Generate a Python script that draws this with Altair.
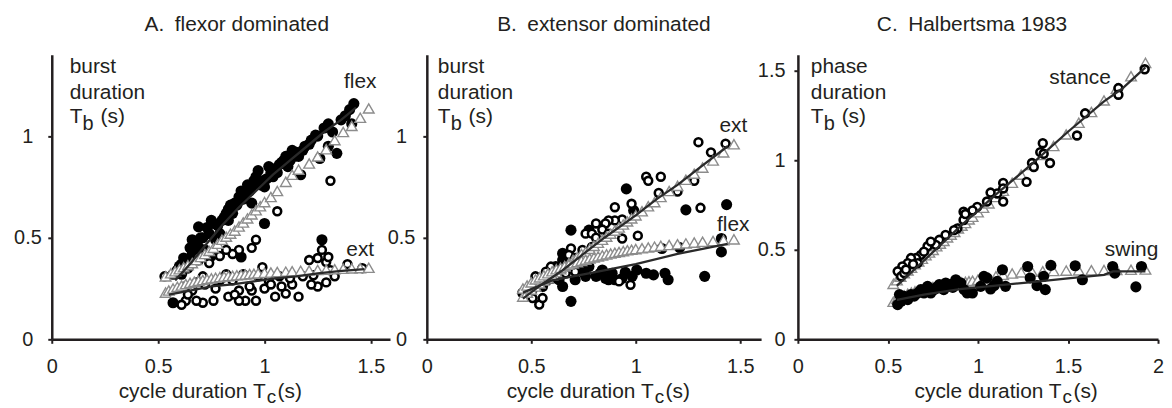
import altair as alt
import pandas as pd

FONT = "Liberation Sans"
INK = "#231f20"
TRI = "#8c8c8c"
LINE = "#2a2a2a"

# ---------------- Panel A: flexor dominated ----------------
A_FLEX = [(1.42,1.16),(1.40,1.13),(1.41,1.06),(1.30,1.06),(1.32,1.02),(1.30,0.95),(1.34,0.915),
          (1.24,1.005),(1.22,0.98),(1.26,0.89),(1.17,0.81),(1.13,0.93),(1.10,0.90),(1.16,0.90),
          (1.07,0.86),(1.03,0.82),(1.02,0.85),(0.99,0.78),(0.97,0.83),(0.96,0.80),(1.00,0.75),
          (0.94,0.75),(0.91,0.72),(0.88,0.70),(0.86,0.67),(0.83,0.64),(0.89,0.73),(0.85,0.62),
          (0.94,0.67),(1.00,0.57),(0.83,0.585),(0.80,0.585),(0.75,0.585),(0.69,0.553),(0.71,0.50),
          (0.77,0.49),(0.69,0.455),(0.66,0.42),(0.72,0.44),(0.63,0.39),(0.60,0.36),(0.61,0.32),
          (0.57,0.32),(0.69,0.39),(0.75,0.41),(0.63,0.26),(0.57,0.18),(1.27,0.49),(0.89,0.405),
          (0.66,0.49),(0.79,0.52),(1.05,0.84),(1.08,0.87),(1.12,0.88),(1.15,0.92),(1.19,0.95),
          (1.11,0.85),(0.93,0.73),(0.90,0.69),(0.87,0.66),(0.81,0.60),(0.78,0.56),(0.74,0.52),
          (0.68,0.47),(0.65,0.45),(0.62,0.40),(0.59,0.34),(0.64,0.35),(1.28,1.04),(1.36,1.08),
          (0.98,0.76),(0.95,0.78),(1.04,0.80),(0.70,0.50),(0.73,0.55),(0.76,0.57),(0.82,0.62),
          (0.84,0.66),(0.92,0.76),(1.01,0.79),(1.06,0.82),(1.09,0.88),(1.14,0.90),(1.18,0.93),
          (1.21,0.96),(1.25,1.00),(1.38,1.10),(0.67,0.44),(0.61,0.37)]
A_EXT = [(1.46,0.35),(1.39,0.37),(1.31,0.34),(1.29,0.38),(1.27,0.44),(1.25,0.40),(1.30,0.405),
         (1.21,0.39),(1.23,0.315),(1.25,0.26),(1.29,0.28),(1.33,0.31),(1.22,0.27),(1.31,0.78),
         (1.06,0.63),(1.16,0.21),(1.13,0.27),(1.10,0.225),(1.07,0.31),(1.02,0.29),(0.99,0.355),
         (0.97,0.31),(0.94,0.24),(0.91,0.19),(0.96,0.19),(0.88,0.24),(0.85,0.29),(0.82,0.32),
         (0.88,0.19),(0.83,0.21),(1.05,0.21),(1.08,0.26),(0.96,0.49),(0.94,0.45),(0.88,0.44),
         (0.85,0.42),(0.82,0.44),(0.79,0.41),(0.74,0.375),(0.72,0.27),(0.76,0.19),(0.71,0.18),
         (0.68,0.19),(0.63,0.19),(0.61,0.17),(0.71,0.31),(0.79,0.29),(0.66,0.24),(0.53,0.31),
         (0.72,0.42),(0.90,0.32),(1.00,0.25),(1.03,0.27),(1.12,0.30),(0.93,0.26),(0.77,0.25),
         (0.68,0.28),(0.64,0.22),(0.86,0.22),(1.18,0.31)]
A_TRI_FLEX = [(0.535,0.31),(0.56,0.325),(0.58,0.335),(0.60,0.345),(0.62,0.355),(0.64,0.365),
              (0.66,0.375),(0.68,0.39),(0.70,0.405),(0.72,0.42),(0.74,0.435),(0.76,0.45),
              (0.78,0.47),(0.80,0.49),(0.82,0.505),(0.84,0.52),(0.86,0.535),(0.88,0.555),
              (0.90,0.575),(0.92,0.595),(0.94,0.615),(0.96,0.635),(0.98,0.655),(1.00,0.675),
              (1.03,0.70),(1.06,0.73),(1.10,0.775),(1.13,0.81),(1.16,0.835),(1.21,0.865),
              (1.25,0.90),(1.29,0.935),(1.33,0.98),(1.37,1.02),(1.41,1.05),(1.45,1.09),(1.49,1.136)]
A_TRI_EXT = [(0.535,0.23),(0.55,0.24),(0.57,0.25),(0.59,0.258),(0.61,0.265),(0.63,0.272),
             (0.65,0.278),(0.67,0.283),(0.69,0.288),(0.71,0.292),(0.73,0.296),(0.75,0.30),
             (0.77,0.303),(0.79,0.306),(0.81,0.309),(0.83,0.311),(0.85,0.313),(0.87,0.315),
             (0.89,0.317),(0.91,0.319),(0.93,0.321),(0.95,0.323),(0.97,0.325),(1.00,0.327),
             (1.03,0.329),(1.06,0.331),(1.10,0.333),(1.13,0.335),(1.17,0.337),(1.21,0.339),
             (1.25,0.341),(1.29,0.343),(1.33,0.345),(1.37,0.347),(1.41,0.349),(1.45,0.35),(1.49,0.352)]
A_LINE_FLEX = [(0.58,0.29),(0.65,0.37),(0.72,0.46),(0.80,0.56),(0.88,0.65),(0.96,0.73),(1.04,0.81),
               (1.12,0.88),(1.20,0.95),(1.28,1.02),(1.36,1.08),(1.43,1.14)]
A_LINE_EXT = [(0.55,0.22),(0.65,0.24),(0.75,0.26),(0.85,0.27),(0.95,0.285),(1.05,0.30),(1.15,0.31),
              (1.25,0.325),(1.35,0.335),(1.47,0.345)]

# ---------------- Panel B: extensor dominated ----------------
B_EXT = [(1.43,0.963),(1.30,0.97),(1.36,0.92),(1.28,0.78),(1.20,0.727),(1.31,0.647),(1.05,0.80),
         (1.06,0.78),(1.12,0.80),(1.11,0.72),(0.98,0.667),(1.01,0.51),(0.935,0.496),(0.90,0.65),
         (0.935,0.59),(0.90,0.585),(0.87,0.585),(0.855,0.57),(0.84,0.54),(0.87,0.52),(0.81,0.57),
         (0.76,0.52),(0.79,0.52),(0.81,0.50),(0.745,0.44),(0.79,0.455),(0.69,0.447),(0.68,0.415),
         (0.71,0.40),(0.76,0.40),(0.745,0.374),(0.70,0.374),(0.65,0.358),(0.665,0.325),(0.594,0.358),
         (0.57,0.333),(0.52,0.31),(0.55,0.276),(0.506,0.244),(0.506,0.203),(0.538,0.171),(0.554,0.203),
         (0.92,0.285),(0.975,0.268),(0.71,0.333),(0.617,0.31)]
B_FLEX = [(1.435,0.663),(1.41,0.496),(1.41,0.43),(1.33,0.31),(1.24,0.637),(1.21,0.452),(1.125,0.447),
          (1.14,0.325),(1.155,0.293),(1.085,0.317),(1.05,0.325),(1.005,0.341),(0.99,0.634),(0.955,0.74),
          (0.69,0.537),(0.776,0.537),(0.65,0.423),(0.65,0.39),(0.617,0.358),(0.633,0.293),(0.65,0.26),
          (0.578,0.293),(0.554,0.26),(0.69,0.187),(0.459,0.228),(0.71,0.293),(0.76,0.31),(0.81,0.31),
          (0.855,0.30),(0.887,0.325),(0.935,0.30),(0.983,0.31),(0.776,0.358),(0.728,0.358),(0.83,0.325),
          (0.90,0.293),(0.87,0.293),(0.84,0.341),(0.60,0.30),(0.52,0.27),(0.75,0.33),(0.95,0.33)]
B_TRI_EXT = [(0.46,0.21),(0.48,0.23),(0.50,0.245),(0.52,0.26),(0.54,0.275),(0.56,0.29),(0.58,0.30),
             (0.60,0.315),(0.62,0.33),(0.64,0.345),(0.66,0.36),(0.68,0.375),(0.70,0.39),(0.72,0.405),
             (0.74,0.42),(0.76,0.43),(0.78,0.445),(0.80,0.46),(0.82,0.475),(0.84,0.49),(0.86,0.505),
             (0.88,0.52),(0.90,0.535),(0.92,0.55),(0.94,0.565),(0.96,0.58),(0.98,0.595),(1.00,0.61),
             (1.03,0.63),(1.06,0.655),(1.09,0.675),(1.12,0.70),(1.16,0.73),(1.20,0.755),(1.24,0.785),
             (1.28,0.815),(1.32,0.845),(1.37,0.88),(1.42,0.92),(1.47,0.96)]
B_TRI_FLEX = [(0.46,0.25),(0.48,0.265),(0.50,0.28),(0.52,0.295),(0.54,0.305),(0.56,0.315),(0.58,0.325),
              (0.60,0.335),(0.62,0.345),(0.64,0.352),(0.66,0.36),(0.68,0.367),(0.70,0.374),(0.72,0.38),
              (0.74,0.386),(0.76,0.392),(0.78,0.398),(0.80,0.403),(0.82,0.408),(0.84,0.413),(0.86,0.418),
              (0.88,0.422),(0.90,0.426),(0.92,0.43),(0.94,0.434),(0.96,0.438),(0.98,0.441),(1.00,0.444),
              (1.03,0.448),(1.06,0.452),(1.09,0.456),(1.12,0.46),(1.16,0.464),(1.20,0.468),(1.24,0.472),
              (1.28,0.476),(1.32,0.48),(1.37,0.484),(1.42,0.488),(1.47,0.492)]
B_LINE_EXT = [(0.46,0.20),(0.55,0.27),(0.65,0.34),(0.75,0.42),(0.85,0.50),(1.00,0.61),(1.10,0.69),
              (1.20,0.76),(1.30,0.84),(1.44,0.95)]
B_LINE_FLEX = [(0.46,0.23),(0.60,0.29),(0.80,0.33),(1.00,0.37),(1.20,0.42),(1.44,0.47)]

# ---------------- Panel C: Halbertsma 1983 ----------------
C_STANCE = [(1.926,1.509),(1.78,1.404),(1.78,1.367),(1.595,1.263),(1.55,1.139),(1.36,1.096),(1.346,1.046),
            (1.365,1.037),(1.40,0.985),(1.30,0.985),(1.31,0.963),(1.27,0.88),(1.14,0.874),(1.14,0.843),
            (1.14,0.77),(1.107,0.815),(1.07,0.82),(1.05,0.77),(0.996,0.74),(0.97,0.72),(0.92,0.713),
            (0.92,0.667),(0.886,0.62),(0.867,0.61),(0.82,0.583),(0.785,0.556),(0.766,0.528),(0.72,0.52),
            (0.683,0.472),(0.656,0.454),(0.628,0.454),(0.61,0.426),(0.58,0.407),(0.554,0.38),(0.573,0.352),
            (0.59,0.37),(0.665,0.426),(0.738,0.546),(0.93,0.70),(0.60,0.39),(0.64,0.42),(0.70,0.49)]
C_SWING = [(1.908,0.407),(1.748,0.407),(1.76,0.37),(1.877,0.293),(1.54,0.411),(1.58,0.333),(1.405,0.413),
           (1.276,0.407),(1.365,0.352),(1.374,0.278),(1.328,0.30),(1.29,0.343),(1.136,0.389),(1.153,0.296),
           (1.07,0.281),(1.033,0.352),(1.05,0.343),(1.107,0.324),(0.969,0.259),(0.923,0.278),(0.877,0.333),
           (0.849,0.306),(0.821,0.315),(0.785,0.306),(0.757,0.278),(0.738,0.259),(0.70,0.259),(0.683,0.278),
           (0.646,0.241),(0.628,0.25),(0.59,0.241),(0.573,0.213),(0.554,0.194),(0.564,0.25),(0.61,0.222),
           (0.665,0.259),(0.72,0.296),(0.81,0.278),(0.905,0.315),(0.94,0.259),(1.015,0.296),(0.60,0.23),
           (0.77,0.29),(0.86,0.29),(1.09,0.30)]
C_TRI_STANCE = [(0.53,0.31),(0.55,0.33),(0.57,0.35),(0.59,0.37),(0.61,0.385),(0.63,0.40),(0.65,0.42),
                (0.67,0.435),(0.69,0.45),(0.71,0.47),(0.73,0.485),(0.75,0.50),(0.77,0.52),(0.79,0.535),
                (0.81,0.55),(0.83,0.57),(0.85,0.585),(0.87,0.60),(0.89,0.62),(0.91,0.635),(0.93,0.65),
                (0.95,0.67),(0.97,0.685),(1.00,0.71),(1.03,0.735),(1.06,0.76),(1.10,0.795),(1.14,0.83),
                (1.19,0.875),(1.24,0.92),(1.30,0.975),(1.36,1.03),(1.42,1.08),(1.49,1.145),(1.56,1.21),
                (1.63,1.27),(1.70,1.335),(1.77,1.40),(1.85,1.47),(1.93,1.545)]
C_TRI_SWING = [(0.53,0.21),(0.55,0.225),(0.57,0.235),(0.59,0.245),(0.61,0.255),(0.63,0.262),(0.65,0.268),
               (0.67,0.274),(0.69,0.279),(0.71,0.284),(0.73,0.288),(0.75,0.292),(0.77,0.296),(0.79,0.30),
               (0.81,0.303),(0.83,0.306),(0.85,0.309),(0.87,0.312),(0.89,0.315),(0.91,0.318),(0.93,0.321),
               (0.95,0.324),(0.97,0.327),(1.00,0.333),(1.03,0.338),(1.06,0.344),(1.10,0.352),(1.14,0.36),
               (1.19,0.368),(1.24,0.374),(1.30,0.378),(1.36,0.38),(1.42,0.382),(1.49,0.384),(1.56,0.385),
               (1.63,0.386),(1.70,0.387),(1.77,0.388),(1.85,0.389),(1.93,0.39)]
C_LINE_STANCE = [(0.55,0.30),(0.70,0.44),(0.90,0.63),(1.10,0.81),(1.30,0.98),(1.50,1.16),(1.70,1.33),
                 (1.80,1.40),(1.93,1.52)]
C_LINE_SWING = [(0.55,0.22),(0.70,0.25),(0.90,0.28),(1.10,0.30),(1.30,0.32),(1.50,0.34),(1.70,0.36),
                (1.75,0.38),(1.93,0.38)]

TITLES = ["A.\u2002flexor dominated", "B.\u2002extensor dominated", "C.\u2002Halbertsma 1983"]
YWORD = ["burst", "burst", "phase"]


def df(pairs):
    return pd.DataFrame(pairs, columns=["x", "y"])


def txt(s, px, py, size=20, align="left"):
    return alt.Chart(pd.DataFrame({"t": [s]})).mark_text(
        text=s, align=align, baseline="alphabetic", font=FONT, fontSize=size, color=INK
    ).encode(x=alt.value(px), y=alt.value(py))


def panel(filled, opened, tri1, tri2, line1, line2, xdom, ydom, xticks, yticks, width,
          ylab_align, ylab_pad, title, title_x, yword, ylab_x, xt_right, notes, tri_below=False):
    xs = alt.Scale(domain=xdom, nice=False, zero=False)
    ys = alt.Scale(domain=ydom, nice=False, zero=False)
    common = dict(grid=False, title=None, domainColor=INK, domainWidth=2.5, tickColor=INK,
                  tickWidth=2, tickSize=4, labelFont=FONT, labelFontSize=20, labelColor=INK,
                  format=".1~f", labelOverlap=False, labelFlush=False, labelBound=False)
    xa = alt.Axis(values=xticks, labelPadding=13, **common)
    ya = alt.Axis(values=yticks, labelPadding=ylab_pad, labelAlign=ylab_align,
                  labelBaseline="middle", **common)
    X = alt.X("x:Q", scale=xs, axis=xa)
    Y = alt.Y("y:Q", scale=ys, axis=ya)

    fil = alt.Chart(df(filled)).mark_point(shape="circle", filled=True, color="#000000",
                                           size=125, opacity=1).encode(x=X, y=Y)
    ope = alt.Chart(df(opened)).mark_point(shape="circle", fill="#ffffff", stroke="#000000",
                                           strokeWidth=2.6, size=62, opacity=1, fillOpacity=1).encode(x=X, y=Y)
    tris = [alt.Chart(df(t)).mark_point(shape="triangle-up", fill="#ffffff", fillOpacity=1,
                                        stroke=TRI, strokeWidth=1.4, size=115, opacity=1).encode(x=X, y=Y)
            for t in (tri1, tri2)]
    lines = [alt.Chart(df(l)).mark_line(color=LINE, strokeWidth=2.3).encode(x=X, y=Y)
             for l in (line1, line2)]
    layers = []
    if tri_below:
        layers += tris + [fil, ope]
    else:
        layers += [fil, ope] + tris
    layers += lines
    # curve annotations (data coordinates)
    for s, nx, ny in notes:
        layers.append(alt.Chart(pd.DataFrame({"x": [nx], "y": [ny]})).mark_text(
            text=s, font=FONT, fontSize=21, color=INK, align="center", baseline="alphabetic"
        ).encode(x=X, y=Y))
    # panel title
    layers.append(txt(title, title_x, -24, align="center", size=21))
    # y label block
    layers.append(txt(yword, ylab_x, 18, size=21))
    layers.append(txt("duration", ylab_x, 44, size=21))
    layers.append(txt("T", ylab_x, 69, size=21))
    layers.append(txt("b", ylab_x + 13, 76, size=20))
    layers.append(txt("(s)", ylab_x + 31, 69, size=21))
    # x title
    layers.append(txt("cycle duration T", xt_right, 345, align="right", size=21))
    layers.append(txt("c", xt_right + 1, 350, size=19))
    layers.append(txt("(s)", xt_right + 12, 345, size=21))
    return alt.layer(*layers).properties(width=width, height=286)


pA = panel(A_FLEX, A_EXT, A_TRI_FLEX, A_TRI_EXT, A_LINE_FLEX, A_LINE_EXT,
           [0, 1.59], [0, 1.4], [0, 0.5, 1, 1.5], [0, 0.5, 1], 340, "center", 20.5,
           TITLES[0], 186, YWORD[0], 18, 215,
           [("flex", 1.45, 1.235), ("ext", 1.45, 0.41)])
anchor = alt.Chart(pd.DataFrame({"a": [0]})).mark_rect(opacity=0).encode(
    x=alt.value(-44), x2=alt.value(-43), y=alt.value(-46), y2=alt.value(-45))
pA = alt.layer(pA, anchor)

pB = panel(B_FLEX, B_EXT, B_TRI_EXT, B_TRI_FLEX, B_LINE_EXT, B_LINE_FLEX,
           [0, 1.6], [0, 1.4], [0, 0.5, 1, 1.5], [0, 0.5, 1], 336, "center", 22,
           TITLES[1], 178, YWORD[1], 11, 228,
           [("ext", 1.467, 1.02), ("flex", 1.467, 0.535)])

pC = panel(C_SWING, C_STANCE, C_TRI_STANCE, C_TRI_SWING, C_LINE_STANCE, C_LINE_SWING,
           [0, 2.0], [0, 1.59], [0, 0.5, 1, 1.5, 2], [0, 0.5, 1, 1.5], 362, "right", 9,
           TITLES[2], 175, YWORD[2], 13, 265,
           [("stance", 1.567, 1.425), ("swing", 1.853, 0.465)], tri_below=True)

chart = alt.hconcat(pA, pB, pC, spacing=37, bounds="flush").properties(
    padding=0
).configure_view(stroke=None)

chart.save("out.html", embed_options={"renderer": "svg", "actions": False})
